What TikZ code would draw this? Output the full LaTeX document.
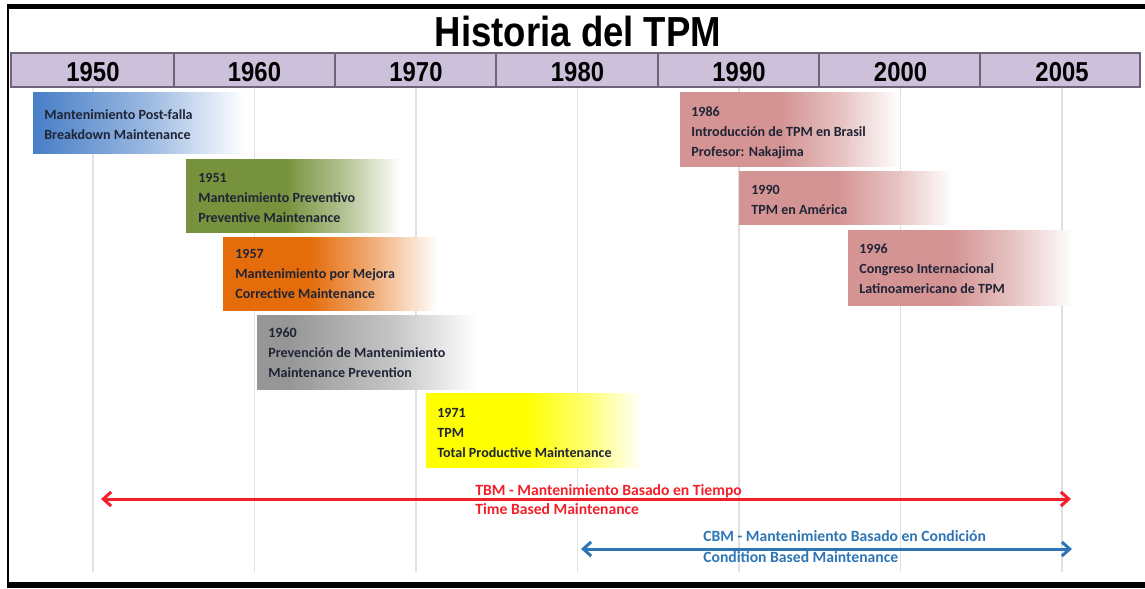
\documentclass[tikz,border=0pt]{standalone}
\usepackage{fontspec}
\setmainfont{Carlito}
\newfontfamily\headfont[FakeStretch=0.87]{Liberation Sans}
\usetikzlibrary{arrows.meta}

\definecolor{tpmblue}{HTML}{4A80C8}
\definecolor{tpmgreen}{HTML}{76923C}
\definecolor{tpmorange}{HTML}{E46C0A}
\definecolor{tpmgrey}{HTML}{969696}
\definecolor{tpmyellow}{HTML}{FFFF00}
\definecolor{tpmpink}{HTML}{D49494}
\definecolor{headfill}{HTML}{CCC0DA}
\definecolor{headline}{HTML}{6E6478}
\definecolor{boxink}{HTML}{1F2436}
\definecolor{tbmred}{HTML}{F2202A}
\definecolor{cbmblue}{HTML}{2E75B6}

\newcommand\fadeshade[4]{\pgfdeclarehorizontalshading{#1}{100bp}{color(0bp)=(#2); color(25bp)=(#2); color(#3bp)=(#2); color(#4bp)=(#2!55!white); color(75bp)=(white); color(100bp)=(white)}}
\fadeshade{fadeblue}{tpmblue}{26}{52}
\fadeshade{fadegreen}{tpmgreen}{48}{62}
\fadeshade{fadeorange}{tpmorange}{45}{60}
\fadeshade{fadegrey}{tpmgrey}{32}{56}
\fadeshade{fadeyellow}{tpmyellow}{48}{62}
\fadeshade{fadepink}{tpmpink}{48}{62}

\begin{document}
\begin{tikzpicture}[x=0.02cm,y=-0.02cm,
    boxtext/.style={anchor=north west,inner sep=0pt,align=left,text=boxink,
      font=\bfseries\fontsize{8}{11.4}\selectfont},
    year/.style={anchor=base,inner sep=0pt,font=\headfont\bfseries\fontsize{15.6}{16}\selectfont},
    gridline/.style={draw=black!12,line width=0.9pt},
    armlabel/.style={anchor=north west,inner sep=0pt,align=left,
      font=\bfseries\fontsize{8.9}{10.6}\selectfont},
    span/.style={line width=1.7pt,{Straight Barb[length=4.5pt,width=8pt]}-{Straight Barb[length=4.5pt,width=8pt]}}]
    \useasboundingbox (0,0) rectangle (1145,588);
    \fill[black] (7,4) rectangle (1145,9);
    \fill[black] (7,582) rectangle (1145,588);
    \draw[line width=1.1pt] (8,4) -- (8,588);
    \node[anchor=base,inner sep=0pt,font=\headfont\bfseries\fontsize{23.9}{24}\selectfont] (title) at (578,47) {Historia del TPM};
    \foreach \x in {93,254.5,416,577.5,739,900.5,1062}
        \draw[gridline] (\x,87) -- (\x,572);
    \draw[fill=headfill,draw=headline,line width=0.8pt] (11,53) rectangle (1140,87);
    \foreach \x in {174,335,496,658,819,980}
        \draw[headline,line width=0.8pt] (\x,53) -- (\x,87);
    \foreach \yr/\x in {1950/93,1960/254.5,1970/416,1980/577.5,1990/739,2000/900.5,2005/1062}
        \node[year] (y\yr) at (\x,82) {\yr};
    \shade[shading=fadeblue] (33,93) rectangle (245,153);
    \node[boxtext] (bm) at (44,109.5) {Mantenimiento Post-falla\\Breakdown Maintenance};
    \shade[shading=fadegreen] (186,159) rectangle (400,232);
    \node[boxtext] (pm) at (198,172.5) {1951\\Mantenimiento Preventivo\\Preventive Maintenance};
    \shade[shading=fadeorange] (223,237) rectangle (438,310);
    \node[boxtext] (cm) at (235,248.5) {1957\\Mantenimiento por Mejora\\Corrective Maintenance};
    \shade[shading=fadegrey] (257,315) rectangle (477,389);
    \node[boxtext] (mp) at (268,327.5) {1960\\Prevención de Mantenimiento\\Maintenance Prevention};
    \shade[shading=fadeyellow] (426,393) rectangle (643,467);
    \node[boxtext] (tpm) at (437,407.5) {1971\\TPM\\Total Productive Maintenance};
    \shade[shading=fadepink] (680,93) rectangle (900,166);
    \node[boxtext] (bra) at (691,106.5) {1986\\Introducción de TPM en Brasil\\Profesor: Nakajima};
    \shade[shading=fadepink] (739,171) rectangle (953,224);
    \node[boxtext] (ame) at (751,184.5) {1990\\TPM en América};
    \shade[shading=fadepink] (848,230) rectangle (1073,305);
    \node[boxtext] (lat) at (859,243.5) {1996\\Congreso Internacional\\Latinoamericano de TPM};
    \coordinate (tbmL) at (101,499);
    \coordinate (tbmR) at (1071,499);
    \draw[span,tbmred] (tbmL) -- (tbmR);
    \node[armlabel,text=tbmred] (tbm) at (475,484.5) {TBM - Mantenimiento Basado en Tiempo\\Time Based Maintenance};
    \coordinate (cbmL) at (581,549);
    \coordinate (cbmR) at (1072,549);
    \draw[span,cbmblue] (cbmL) -- (cbmR);
    \node[armlabel,text=cbmblue,font=\bfseries\fontsize{8.9}{11.9}\selectfont] (cbm) at (703,530.5) {CBM - Mantenimiento Basado en Condición\\Condition Based Maintenance};
\end{tikzpicture}
\end{document}
